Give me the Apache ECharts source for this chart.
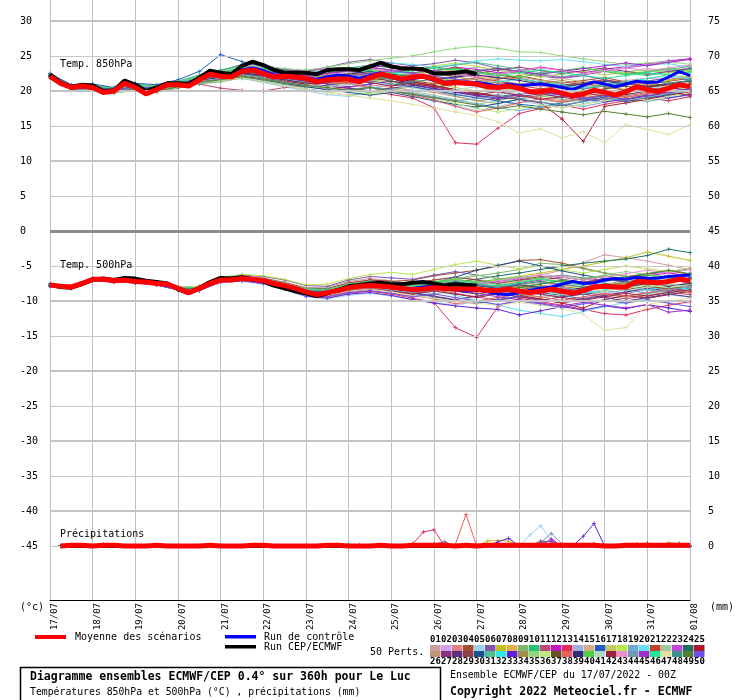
<!DOCTYPE html>
<html><head><meta charset="utf-8">
<script src="https://cdn.jsdelivr.net/npm/echarts@6/dist/echarts.min.js"></script>
<style>html,body{margin:0;padding:0;background:#fff}#c{width:740px;height:700px}</style>
</head><body><div id="c"></div>
<script>
const dateLabels = ['17/07','18/07','19/07','20/07','21/07','22/07','23/07','24/07','25/07','26/07','27/07','28/07','29/07','30/07','31/07','01/08'];
const hours6 = [0,6,12,18,24,30,36,42,48,54,60,66,72,78,84,90,96,102,108,114,120,126,132,138,144,150,156,162,168,174,180,186,192,198,204,210,216,222,228,234,240,246,252,258,264,270,276,282,288,294,300,306,312,318,324,330,336,342,348,354,360];
const hours12 = [0,12,24,36,48,60,72,84,96,108,120,132,144,156,168,180,192,204,216,228,240,252,264,276,288,300,312,324,336,348,360];
const leftTicks = [30,25,20,15,10,5,0,-5,-10,-15,-20,-25,-30,-35,-40,-45];
const rightTicks = [75,70,65,60,55,50,45,40,35,30,25,20,15,10,5,0];
const gridMajor = [30,20,10,-10,-20,-30,-40];
const gridMinor = [25,15,5,-5,-15,-25,-35,-45];

const mean850 = [22.1,21.1,20.5,20.7,20.5,19.8,20.0,21.1,20.5,19.6,20.2,20.9,20.9,20.7,21.6,22.4,22.1,22.0,22.8,23.0,22.5,22.0,22.1,22.0,21.8,21.3,21.6,21.7,21.7,21.3,21.9,22.4,22.1,21.7,22.0,22.1,21.7,21.1,21.2,21.1,21.0,20.6,20.5,20.7,20.4,19.9,19.9,20.1,19.7,19.3,19.6,20.1,19.8,19.4,19.9,20.6,20.2,19.9,20.4,20.9,20.6];
const ctrl850 = [22.2,21.1,20.4,20.6,20.4,19.7,20.0,21.2,20.6,19.7,20.3,21.0,21.0,20.8,21.8,22.6,22.3,22.1,23.0,23.3,22.9,22.3,22.2,22.0,21.9,21.6,22.0,22.3,22.1,21.8,22.2,22.6,22.0,21.5,21.8,22.0,21.5,21.2,21.4,21.0,21.2,21.0,20.6,21.0,20.8,20.9,21.0,20.8,20.5,20.2,20.8,21.3,21.0,20.6,21.0,21.4,21.2,21.3,22.0,22.8,22.2];
const cep850 = [22.4,21.2,20.6,20.9,20.8,20.0,20.1,21.5,20.9,20.0,20.5,21.1,21.1,21.0,21.9,22.9,22.6,22.4,23.6,24.2,23.7,23.0,22.6,22.6,22.6,22.4,23.0,23.1,23.1,23.0,23.5,24.0,23.5,23.2,23.2,23.1,22.5,22.5,22.6,22.8,22.4];
const mean500 = [-7.7,-7.9,-8.0,-7.5,-6.9,-6.9,-7.1,-7.0,-7.2,-7.3,-7.5,-7.6,-8.2,-8.8,-8.2,-7.5,-7.0,-7.0,-6.8,-6.9,-7.1,-7.5,-7.8,-8.2,-8.7,-9.1,-8.8,-8.5,-8.1,-7.9,-7.8,-7.9,-8.0,-8.2,-8.4,-8.3,-8.1,-8.2,-8.3,-8.3,-8.3,-8.5,-8.5,-8.3,-8.6,-8.8,-8.6,-8.3,-8.6,-8.9,-8.5,-8.0,-7.9,-8.0,-8.0,-7.2,-7.3,-7.4,-7.2,-6.9,-7.1];
const ctrl500 = [-7.7,-7.9,-8.0,-7.4,-6.9,-6.9,-7.1,-7.0,-7.2,-7.4,-7.5,-7.7,-8.3,-8.9,-8.3,-7.5,-7.0,-7.1,-6.9,-7.0,-7.3,-7.6,-7.9,-8.3,-8.8,-9.2,-8.9,-8.4,-8.0,-7.8,-7.7,-7.8,-8.0,-8.3,-8.2,-8.0,-7.9,-8.1,-8.4,-8.6,-8.4,-8.7,-9.0,-9.1,-8.8,-8.5,-8.2,-8.0,-7.6,-7.2,-7.5,-7.4,-7.0,-6.8,-6.9,-6.6,-6.8,-6.7,-6.5,-6.4,-6.3];
const cep500 = [-7.7,-8.0,-8.1,-7.6,-7.0,-6.8,-7.0,-6.7,-6.8,-7.1,-7.3,-7.5,-8.3,-8.9,-8.1,-7.3,-6.7,-6.8,-6.6,-6.9,-7.2,-7.8,-8.2,-8.6,-8.9,-9.3,-8.9,-8.4,-7.9,-7.7,-7.5,-7.4,-7.6,-7.6,-7.4,-7.3,-7.5,-7.8,-7.6,-7.7,-7.8];
// precipitation (mm), 6h steps from +6h to +360h
const precipMean = [0,0.1,0.1,0,0.1,0.1,0,0,0,0.1,0,0,0,0,0.1,0,0,0,0.1,0.1,0,0,0,0,0,0.1,0.1,0,0,0,0.1,0,0,0.1,0.1,0.1,0.1,0,0.1,0,0.1,0.1,0.1,0.1,0.1,0.1,0.1,0.1,0.1,0.1,0.1,0,0,0.1,0.1,0.1,0.1,0.1,0.1,0.1];
// [member, hour, mm] : non-zero member precipitation
const precipSpikes = [[13,204,0.3],[13,210,2.0],[13,216,2.3],[38,228,0.2],[38,234,4.5],[5,270,1.6],[5,276,2.9],[5,282,0.8],[44,276,0.5],[44,282,1.8],[44,288,0.3],[33,252,0.6],[33,258,1.1],[33,300,1.4],[33,306,3.2],[7,246,0.7],[7,252,0.8],[7,258,0.7],[6,216,0.3],[6,222,0.6],[9,222,0.4],[16,234,0.2],[48,222,0.3],[29,276,0.7],[29,282,0.6],[12,282,1.0],[50,282,0.8],[50,276,0.4],[37,300,0.2],[37,306,0.3],[21,306,0.3],[29,330,0.3],[4,336,0.4],[25,336,0.3],[8,348,0.5],[8,354,0.3],[40,348,0.3],[48,354,0.4],[1,354,0.2],[40,30,0.3],[31,36,0.2],[35,162,0.3],[46,168,0.3],[10,174,0.2]];

const memberLabels = ['01','02','03','04','05','06','07','08','09','10','11','12','13','14','15','16','17','18','19','20','21','22','23','24','25','26','27','28','29','30','31','32','33','34','35','36','37','38','39','40','41','42','43','44','45','46','47','48','49','50'];
const memberColors = ['#d09ca4','#d0a0e8','#e08088','#a05030','#a0d0f0','#8058b0','#c0c020','#e0b050','#80b870','#28c070','#c04878','#c018c0','#e03058','#a0b0e0','#d0b088','#2060c0','#c8c860','#b8e850','#70a8d8','#68e0f0','#c04028','#a0c8a0','#c048d8','#207060','#b01828','#c09878','#903080','#603080','#904048','#185090','#50c090','#30e8e8','#6020d8','#a09050','#90d880','#c0e880','#705028','#e86060','#302878','#50d040','#b0d8c8','#a02040','#e890d0','#7098b0','#a030c8','#20e890','#e0e0a0','#409090','#508030','#7050e8'];

const perts850 = [
[22.3,20.7,20.6,20.2,20.9,20.5,21.2,22.0,22.6,23.3,23.1,22.6,22.4,22.0,22.3,22.6,22.9,22.5,22.0,21.6,21.8,21.3,21.0,20.6,20.9,21.2,21.0,21.5,21.8,21.6,22.0],
[22.0,20.4,20.3,19.8,20.2,19.9,20.6,21.3,21.8,22.2,22.0,21.5,21.2,21.4,21.9,22.4,22.8,23.1,22.6,22.9,23.4,23.0,22.5,22.1,22.4,22.8,22.3,22.7,23.2,22.9,23.3],
[22.2,20.6,20.7,20.1,20.4,20.0,20.7,21.2,21.6,22.0,21.7,21.0,20.6,20.2,20.5,20.9,20.5,20.1,19.8,19.2,18.6,18.9,19.4,19.0,18.6,18.9,19.5,19.1,19.6,20.1,20.0],
[22.1,20.5,20.6,20.1,20.6,20.4,21.1,21.9,22.5,23.4,23.6,23.0,22.5,22.8,23.2,23.0,22.7,23.1,23.5,22.9,22.3,21.8,22.2,21.6,21.1,21.5,21.9,21.3,21.0,21.4,21.8],
[22.0,20.3,20.2,19.7,20.3,20.0,20.5,21.0,21.4,21.8,21.2,20.6,20.0,19.5,19.2,19.8,20.3,19.6,18.8,17.9,17.2,17.8,18.5,18.1,17.6,18.2,18.8,18.4,19.0,19.3,19.1],
[22.4,20.8,20.9,20.3,20.8,20.6,21.3,22.1,22.9,23.8,23.7,23.1,22.8,23.4,24.1,24.5,24.0,23.6,23.9,24.4,24.0,23.2,22.7,22.1,21.8,22.2,21.6,21.0,21.4,21.9,21.6],
[22.1,20.6,20.4,20.0,20.6,20.3,21.0,21.7,22.0,22.5,22.1,21.9,21.4,21.0,21.3,21.7,22.2,22.5,22.0,21.4,21.1,20.7,20.2,20.0,20.4,20.1,19.6,20.2,20.8,21.5,22.1],
[22.2,20.5,20.6,20.0,20.4,20.1,20.8,21.5,22.0,22.9,22.8,22.5,22.2,22.3,22.0,21.6,21.9,22.4,22.7,23.0,22.6,22.0,21.7,21.2,20.6,20.3,20.9,21.3,21.1,20.8,21.2],
[21.9,20.3,20.2,19.7,20.1,19.8,20.4,21.0,21.3,21.9,21.5,21.0,20.5,20.8,21.1,20.6,20.2,20.6,20.0,19.3,18.6,18.2,18.9,19.3,18.8,18.5,19.1,19.6,19.2,19.8,20.3],
[22.3,20.7,20.8,20.4,21.0,20.7,21.4,22.3,23.0,23.7,23.2,22.9,22.6,22.2,22.5,23.0,23.4,23.2,22.8,22.4,22.9,23.3,22.8,22.4,22.0,22.5,23.0,22.6,22.2,22.7,23.1],
[22.0,20.4,20.5,20.0,20.3,20.1,20.8,21.0,20.4,20.1,20.0,20.5,20.9,21.2,21.0,21.4,21.8,21.3,20.7,20.1,19.8,19.3,18.9,19.4,19.8,19.2,18.7,19.3,19.8,20.4,20.1],
[22.2,20.6,20.6,20.2,20.7,20.4,21.0,21.8,22.3,23.0,22.9,22.4,22.0,22.4,22.8,23.3,23.0,22.6,22.9,23.4,23.1,22.6,22.9,23.4,23.0,22.6,23.1,23.5,23.9,24.3,24.6],
[22.1,20.5,20.4,19.9,20.4,20.1,20.7,21.3,21.7,22.2,21.9,21.5,21.0,20.7,20.4,20.0,19.5,19.0,17.6,12.6,12.4,14.7,16.8,17.5,18.0,17.4,18.1,18.6,19.0,18.6,19.2],
[22.0,20.4,20.4,19.9,20.3,20.0,20.6,21.2,21.6,22.1,21.8,21.3,20.8,20.3,20.0,20.4,20.9,20.5,20.0,19.6,19.1,19.5,20.0,19.6,19.2,19.7,20.2,19.8,20.4,20.9,20.5],
[22.2,20.6,20.6,20.1,20.6,20.3,21.0,21.7,22.2,22.9,22.7,22.3,22.0,21.8,22.1,22.5,22.2,21.8,22.2,22.6,22.1,21.6,21.0,21.4,21.8,21.3,20.9,21.4,21.8,22.3,21.9],
[22.5,20.9,21.0,20.5,21.1,20.9,21.6,22.8,25.2,24.2,23.5,23.0,22.6,22.2,21.9,21.4,21.0,20.6,20.1,19.5,19.0,18.6,18.1,17.8,18.3,18.9,19.4,19.9,20.5,21.0,20.6],
[22.1,20.5,20.5,20.0,20.5,20.2,20.9,21.6,22.0,22.6,22.2,21.8,21.4,21.7,22.0,21.6,21.2,21.6,21.1,20.5,20.0,20.4,20.0,19.5,19.1,19.5,19.0,19.4,19.9,20.2,19.8],
[22.3,20.7,20.7,20.3,20.8,20.5,21.2,22.0,22.6,23.4,23.3,22.9,22.6,23.0,23.4,23.0,22.6,23.1,23.6,24.0,23.5,23.0,22.5,22.0,22.4,22.8,22.3,22.7,23.0,22.6,22.9],
[22.0,20.4,20.3,19.8,20.2,19.9,20.5,21.1,21.5,21.9,21.4,20.9,20.3,19.9,20.2,20.6,20.2,19.7,19.2,18.7,18.2,17.6,17.2,17.7,18.1,17.8,18.4,18.9,18.5,19.0,19.5],
[22.2,20.6,20.7,20.2,20.7,20.5,21.1,21.9,22.4,23.1,23.0,22.7,22.4,22.8,23.2,23.6,24.0,23.8,23.4,23.8,24.3,24.6,24.4,24.3,24.5,24.2,23.8,23.5,23.7,23.9,23.4],
[22.1,20.5,20.6,20.0,20.5,20.2,20.9,21.7,22.2,22.9,22.6,22.2,21.9,21.5,21.2,21.6,22.0,21.5,21.0,21.5,21.9,21.4,20.8,20.3,20.7,21.1,20.6,20.1,20.5,20.9,20.4],
[21.9,20.2,20.2,19.7,20.2,19.9,20.5,21.1,21.4,21.8,21.3,20.7,20.2,19.8,19.4,19.8,20.3,19.9,19.4,18.8,18.1,18.6,19.2,18.8,18.3,18.8,19.3,18.9,19.4,19.9,20.3],
[22.3,20.7,20.8,20.3,20.9,20.6,21.3,22.1,22.7,23.5,23.4,23.0,22.8,23.2,22.8,22.4,22.8,23.2,22.8,22.4,22.0,22.4,22.8,22.3,21.9,22.3,22.8,23.3,23.7,24.2,24.6],
[22.0,20.4,20.4,19.9,20.4,20.1,20.7,21.4,21.8,22.4,22.0,21.6,21.2,21.5,21.9,21.4,20.9,21.3,20.8,20.2,19.7,19.2,19.6,20.0,19.5,19.0,19.4,19.9,20.3,19.8,20.2],
[22.1,20.5,20.5,20.0,20.4,20.2,20.9,21.5,22.0,22.6,22.3,21.9,21.6,21.3,21.7,22.1,21.7,21.3,20.8,20.2,19.6,19.2,18.8,18.3,16.0,12.8,17.8,18.3,18.8,19.4,19.9],
[22.2,20.6,20.6,20.1,20.5,20.3,20.9,21.6,22.1,22.7,22.4,22.0,21.7,22.0,22.3,22.7,23.0,22.5,22.1,21.7,21.3,21.7,22.0,21.5,21.0,20.6,21.0,21.4,20.9,20.5,20.9],
[22.0,20.4,20.5,19.9,20.4,20.1,20.8,21.5,22.0,22.7,22.6,22.2,21.9,21.5,21.8,22.2,22.6,23.0,22.5,22.1,22.5,23.0,23.4,22.9,22.5,22.9,23.3,22.8,22.4,22.8,23.2],
[22.1,20.4,20.4,19.9,20.3,20.0,20.7,21.4,21.9,22.5,22.1,21.6,21.1,20.7,20.4,20.0,20.4,20.8,20.3,19.8,19.3,18.8,19.2,19.6,19.1,18.7,19.1,19.5,20.0,20.5,20.1],
[22.3,20.8,20.8,20.3,20.8,20.5,21.2,22.0,22.5,23.2,23.0,22.6,22.3,22.6,22.9,22.4,22.0,22.5,22.9,23.3,22.8,22.3,21.8,21.2,20.8,21.2,21.6,21.2,20.7,21.1,21.5],
[22.0,20.3,20.3,19.8,20.3,20.0,20.6,21.2,21.6,22.0,21.6,21.1,20.6,20.2,19.8,19.4,19.8,19.2,18.6,18.1,17.7,18.2,18.8,18.4,17.9,18.5,19.0,18.5,19.0,19.5,19.9],
[22.2,20.6,20.7,20.2,20.7,20.4,21.1,21.8,22.4,23.1,23.0,22.7,22.5,22.9,23.3,23.7,23.3,22.9,23.3,23.7,24.1,23.6,23.1,22.6,22.9,23.3,22.8,22.3,22.7,23.1,23.5],
[22.1,20.5,20.5,20.0,20.5,20.2,20.9,21.6,22.1,22.8,22.5,22.1,21.8,21.5,21.8,22.2,22.6,22.2,21.8,21.3,20.9,21.3,21.7,21.3,20.9,20.4,20.9,21.3,21.8,22.2,21.7],
[22.0,20.4,20.4,19.9,20.4,20.1,20.7,21.4,21.9,22.6,22.3,21.8,21.4,21.0,20.6,21.0,21.4,20.9,20.4,19.9,19.4,19.0,19.5,19.9,19.4,18.9,18.4,18.9,19.4,19.0,19.5],
[22.2,20.6,20.6,20.1,20.6,20.3,21.0,21.7,22.2,22.9,22.6,22.2,21.9,22.2,22.5,22.1,21.7,22.1,22.4,22.0,21.6,21.1,20.7,21.1,21.5,21.0,20.6,20.2,20.6,21.0,20.6],
[22.3,20.7,20.8,20.3,20.9,20.6,21.3,22.1,22.7,23.6,23.5,23.2,23.0,23.4,23.9,24.3,24.7,25.0,25.6,26.1,26.4,26.1,25.6,25.5,25.0,24.6,24.2,23.8,24.0,24.2,23.8],
[22.0,20.4,20.3,19.8,20.3,20.0,20.6,21.2,21.6,22.1,21.7,21.2,20.8,20.4,20.0,19.6,20.0,19.6,19.0,18.2,17.5,17.0,17.5,18.0,17.6,18.1,18.6,19.1,18.7,19.2,19.7],
[22.1,20.5,20.5,20.0,20.5,20.2,20.9,21.6,22.0,22.6,22.3,21.9,21.5,21.2,21.5,21.9,21.4,21.0,20.6,20.9,21.3,20.8,20.4,19.9,19.5,19.9,20.3,20.7,20.2,20.6,21.0],
[22.2,20.6,20.6,20.1,20.5,20.2,20.9,21.6,22.1,22.8,22.6,22.2,21.8,21.4,21.0,20.5,20.0,19.4,18.7,17.8,17.0,17.6,18.3,18.9,18.4,19.0,19.5,19.1,19.6,20.1,19.7],
[22.0,20.4,20.4,19.9,20.4,20.1,20.8,21.5,22.0,22.6,22.4,22.0,21.7,22.0,22.4,22.8,22.4,22.0,21.6,22.0,22.3,21.9,21.5,21.0,20.6,21.0,21.4,21.0,20.6,21.0,21.4],
[22.3,20.7,20.7,20.2,20.7,20.4,21.1,21.9,22.4,23.1,22.9,22.5,22.2,22.5,22.1,21.7,22.1,22.5,22.9,23.2,22.8,22.4,22.0,22.4,22.9,23.3,22.8,22.4,22.8,23.2,22.8],
[22.1,20.5,20.5,20.0,20.5,20.2,20.8,21.4,21.8,22.3,21.9,21.4,21.0,20.6,20.9,21.3,20.9,20.4,19.9,20.2,20.6,20.1,19.6,20.0,20.4,19.9,19.5,19.9,20.3,20.7,20.3],
[22.0,20.4,20.4,19.9,20.3,20.0,20.6,21.3,21.7,22.2,21.8,21.4,21.0,21.3,21.6,21.2,20.7,21.1,20.6,20.0,19.5,19.9,19.4,18.8,19.2,19.7,19.3,18.8,19.3,19.8,19.4],
[22.2,20.6,20.6,20.1,20.6,20.3,21.0,21.7,22.2,22.9,22.7,22.4,22.1,22.4,22.8,23.2,22.8,22.4,22.8,22.4,22.0,22.4,22.9,23.3,22.9,22.5,22.9,23.3,22.9,23.3,23.7],
[22.1,20.5,20.4,19.9,20.4,20.1,20.7,21.3,21.7,22.2,21.8,21.3,20.8,20.4,20.1,20.5,20.1,19.6,19.1,18.6,18.9,19.3,18.9,18.4,18.0,18.5,19.0,18.6,19.1,19.6,20.0],
[22.2,20.6,20.7,20.2,20.7,20.4,21.1,21.8,22.3,23.0,22.8,22.5,22.2,22.5,22.9,23.3,23.7,23.3,22.9,22.5,22.8,23.2,22.8,22.4,22.8,23.2,23.6,24.0,23.6,24.1,24.5],
[22.3,20.7,20.8,20.3,20.8,20.5,21.2,22.0,22.6,23.4,23.2,22.9,22.6,22.9,23.3,22.9,22.5,22.9,23.3,23.0,22.6,22.2,22.6,23.0,22.6,22.2,21.8,22.2,22.6,22.3,22.7],
[22.0,20.4,20.3,19.8,20.3,20.0,20.6,21.2,21.5,21.9,21.4,20.8,20.3,19.8,19.4,19.0,18.6,18.1,17.6,17.0,16.5,15.6,14.0,14.6,13.3,14.2,12.6,15.2,14.5,13.8,15.2],
[22.1,20.5,20.5,20.0,20.5,20.2,20.9,21.6,22.1,22.7,22.4,22.0,21.7,21.4,21.7,22.1,21.7,21.3,21.7,21.2,20.8,20.3,20.7,21.1,20.7,20.3,20.7,21.1,21.5,21.1,21.5],
[22.0,20.4,20.4,19.9,20.3,20.0,20.6,21.2,21.6,22.1,21.7,21.2,20.8,20.5,20.1,20.5,20.0,19.5,19.0,18.5,18.0,17.5,17.9,17.4,17.0,16.6,17.1,16.7,16.3,16.8,16.2],
[22.2,20.6,20.6,20.1,20.6,20.3,21.0,21.7,22.2,22.9,22.7,22.3,22.0,21.7,22.1,22.5,22.9,22.5,22.1,21.7,21.3,20.9,20.4,19.8,19.4,18.9,19.3,18.8,19.3,19.8,20.3]
];

const perts500 = [
[-7.6,-7.9,-6.8,-7.0,-7.1,-7.4,-8.0,-8.0,-6.7,-6.4,-6.7,-7.3,-8.1,-8.0,-7.2,-6.8,-7.1,-7.6,-7.0,-6.6,-6.9,-7.4,-6.8,-6.3,-5.6,-4.5,-3.4,-3.8,-4.3,-4.9,-5.5],
[-7.8,-8.1,-7.0,-7.2,-7.3,-7.6,-8.3,-8.4,-7.2,-7.0,-7.4,-8.1,-9.0,-9.2,-8.5,-8.0,-7.6,-7.9,-7.4,-7.0,-7.5,-8.0,-8.4,-7.9,-7.4,-7.8,-7.2,-6.8,-6.2,-6.6,-6.0],
[-7.7,-7.9,-6.9,-7.2,-7.3,-7.5,-8.3,-8.3,-7.2,-7.0,-7.4,-8.2,-9.2,-9.5,-8.9,-8.6,-8.9,-9.3,-9.6,-10.0,-10.4,-9.8,-9.3,-9.7,-10.2,-9.6,-9.0,-9.4,-8.8,-8.4,-8.8],
[-7.7,-8.0,-6.9,-7.0,-7.1,-7.4,-8.1,-8.1,-6.9,-6.6,-6.8,-7.4,-8.2,-8.3,-7.5,-7.0,-7.2,-7.0,-6.4,-6.0,-5.6,-5.0,-4.2,-4.1,-4.6,-5.3,-6.0,-6.5,-6.1,-5.7,-6.2],
[-7.8,-8.1,-7.0,-7.3,-7.4,-7.7,-8.4,-8.5,-7.3,-7.2,-7.6,-8.4,-9.4,-9.7,-9.2,-8.9,-9.3,-9.8,-10.2,-10.6,-10.1,-9.6,-10.0,-10.5,-11.0,-10.4,-9.8,-10.2,-9.6,-9.1,-9.5],
[-7.6,-7.9,-6.8,-6.9,-7.0,-7.3,-8.0,-7.9,-6.6,-6.3,-6.5,-7.0,-7.8,-7.9,-7.0,-6.5,-6.7,-6.9,-6.3,-5.8,-6.3,-6.8,-7.2,-6.7,-6.3,-6.7,-7.1,-6.6,-6.2,-5.8,-5.4],
[-7.7,-8.0,-6.9,-7.1,-7.2,-7.5,-8.2,-8.2,-7.0,-6.8,-7.0,-7.6,-8.4,-8.5,-7.8,-7.5,-7.7,-8.0,-7.5,-7.1,-7.4,-7.0,-6.5,-6.0,-5.5,-5.0,-4.4,-3.8,-3.0,-3.6,-4.2],
[-7.7,-8.0,-6.9,-7.1,-7.2,-7.5,-8.2,-8.3,-7.1,-6.9,-7.2,-7.9,-8.8,-9.0,-8.3,-8.0,-8.3,-8.7,-8.3,-7.9,-8.3,-8.7,-8.2,-7.8,-8.2,-8.6,-8.1,-7.6,-7.9,-7.5,-7.8],
[-7.8,-8.0,-6.9,-7.1,-7.2,-7.5,-8.2,-8.2,-7.0,-6.8,-7.1,-7.7,-8.5,-8.6,-7.8,-7.4,-7.6,-7.9,-7.4,-6.9,-6.4,-6.0,-5.5,-4.6,-4.8,-5.4,-6.0,-6.5,-7.0,-6.6,-7.1],
[-7.6,-7.9,-6.8,-7.0,-7.1,-7.4,-8.1,-8.1,-6.9,-6.6,-6.9,-7.5,-8.3,-8.4,-7.6,-7.2,-7.5,-7.9,-7.4,-7.8,-8.2,-7.8,-7.3,-6.9,-7.3,-7.7,-7.2,-6.7,-6.3,-6.7,-6.2],
[-7.7,-8.0,-6.9,-7.1,-7.3,-7.6,-8.3,-8.3,-7.1,-6.9,-7.3,-8.0,-8.9,-9.1,-8.4,-8.1,-8.4,-8.8,-8.4,-8.9,-9.4,-9.9,-9.4,-9.8,-10.3,-9.8,-9.3,-9.7,-9.2,-8.7,-9.1],
[-7.7,-8.0,-6.9,-7.1,-7.2,-7.5,-8.2,-8.2,-7.0,-6.7,-7.0,-7.6,-8.5,-8.5,-7.8,-7.4,-7.7,-8.1,-7.6,-7.2,-7.6,-8.0,-7.5,-7.0,-6.6,-7.0,-6.5,-6.9,-6.4,-6.0,-6.4],
[-7.7,-8.0,-6.9,-7.1,-7.2,-7.6,-8.3,-8.4,-7.2,-7.0,-7.4,-8.1,-9.0,-9.3,-8.8,-8.6,-9.0,-9.6,-10.2,-13.8,-15.2,-10.8,-9.6,-10.1,-10.6,-11.2,-11.8,-12.0,-11.2,-10.6,-10.1],
[-7.8,-8.1,-7.0,-7.2,-7.3,-7.6,-8.3,-8.4,-7.2,-7.0,-7.3,-8.0,-8.9,-9.0,-8.3,-8.0,-8.2,-8.6,-8.2,-7.8,-8.2,-8.6,-9.0,-8.5,-8.1,-8.5,-8.9,-8.4,-8.0,-8.4,-8.0],
[-7.6,-7.9,-6.8,-7.0,-7.1,-7.4,-8.1,-8.0,-6.8,-6.5,-6.8,-7.4,-8.2,-8.3,-7.5,-7.1,-7.4,-7.8,-7.3,-6.9,-7.3,-7.7,-7.2,-6.8,-7.2,-7.6,-8.0,-7.5,-7.0,-7.4,-7.0],
[-7.9,-8.2,-7.1,-7.3,-7.4,-7.7,-8.4,-8.5,-7.3,-7.0,-7.3,-7.9,-8.8,-9.0,-8.4,-8.1,-8.4,-8.9,-9.4,-9.9,-10.3,-9.8,-9.3,-8.8,-9.2,-9.7,-9.2,-8.7,-8.2,-8.6,-8.1],
[-7.7,-8.0,-6.9,-7.1,-7.2,-7.5,-8.2,-8.2,-7.0,-6.8,-7.1,-7.7,-8.6,-8.7,-8.0,-7.7,-8.0,-8.4,-8.0,-8.4,-8.8,-8.4,-8.0,-8.4,-8.9,-8.5,-8.1,-8.5,-8.0,-7.6,-7.9],
[-7.6,-7.9,-6.8,-6.9,-7.0,-7.3,-8.0,-7.9,-6.6,-6.2,-6.4,-6.9,-7.7,-7.6,-6.8,-6.2,-5.9,-6.2,-5.5,-4.8,-4.3,-4.9,-5.4,-5.0,-5.5,-6.0,-5.5,-5.0,-5.4,-5.8,-5.3],
[-7.8,-8.1,-7.0,-7.2,-7.3,-7.6,-8.3,-8.4,-7.2,-7.0,-7.4,-8.1,-9.0,-9.2,-8.6,-8.3,-8.6,-9.0,-8.6,-8.2,-8.6,-9.0,-8.6,-9.1,-9.5,-9.0,-8.5,-8.9,-8.4,-8.8,-8.3],
[-7.7,-8.0,-6.9,-7.1,-7.2,-7.5,-8.2,-8.2,-7.0,-6.7,-6.9,-7.5,-8.3,-8.4,-7.7,-7.3,-7.6,-8.0,-8.5,-9.2,-9.9,-10.6,-11.3,-11.8,-12.2,-11.5,-10.8,-10.2,-9.6,-9.0,-8.5],
[-7.7,-8.0,-6.9,-7.1,-7.2,-7.5,-8.2,-8.2,-7.0,-6.8,-7.1,-7.8,-8.7,-8.8,-8.1,-7.8,-8.1,-8.5,-8.0,-7.6,-8.0,-8.5,-8.9,-8.4,-7.9,-8.3,-7.8,-7.3,-7.7,-7.2,-6.8],
[-7.8,-8.1,-7.0,-7.2,-7.3,-7.6,-8.3,-8.3,-7.1,-6.9,-7.2,-7.9,-8.8,-8.9,-8.2,-7.9,-8.2,-8.6,-9.0,-8.6,-8.2,-8.6,-9.1,-9.5,-9.1,-8.6,-9.0,-9.5,-9.0,-8.5,-8.9],
[-7.6,-7.9,-6.8,-7.0,-7.1,-7.4,-8.1,-8.1,-6.9,-6.6,-6.9,-7.5,-8.3,-8.4,-7.7,-7.3,-7.6,-8.0,-7.6,-7.2,-7.6,-7.2,-6.8,-7.2,-7.7,-7.3,-6.9,-7.3,-6.8,-6.4,-6.8],
[-7.7,-8.0,-6.9,-7.1,-7.2,-7.5,-8.2,-8.2,-7.0,-6.8,-7.1,-7.7,-8.5,-8.6,-7.9,-7.5,-7.8,-8.2,-7.7,-7.3,-6.9,-6.4,-6.0,-5.5,-5.0,-4.6,-4.3,-4.0,-3.5,-2.6,-3.1],
[-7.7,-8.0,-6.9,-7.1,-7.3,-7.6,-8.3,-8.3,-7.1,-6.9,-7.2,-7.9,-8.8,-8.9,-8.2,-7.9,-8.2,-8.6,-8.2,-7.8,-8.2,-8.7,-9.2,-9.7,-10.3,-11.0,-9.8,-9.2,-9.6,-9.1,-8.6],
[-7.7,-8.0,-6.9,-7.1,-7.2,-7.5,-8.2,-8.2,-7.0,-6.8,-7.1,-7.7,-8.5,-8.6,-7.9,-7.6,-7.9,-8.3,-7.9,-7.5,-7.9,-8.3,-7.8,-7.3,-7.7,-8.1,-7.6,-7.1,-7.5,-7.9,-7.4],
[-7.8,-8.1,-7.0,-7.2,-7.4,-7.7,-8.4,-8.4,-7.2,-7.0,-7.4,-8.1,-9.0,-9.2,-8.5,-8.2,-8.5,-8.9,-8.4,-8.0,-8.4,-8.8,-8.3,-7.9,-8.3,-8.8,-9.2,-8.7,-8.2,-8.6,-8.1],
[-7.7,-8.0,-6.9,-7.1,-7.2,-7.5,-8.2,-8.3,-7.1,-6.9,-7.2,-7.8,-8.7,-8.9,-8.3,-8.0,-8.4,-8.8,-9.3,-9.8,-9.3,-8.9,-9.4,-9.9,-9.4,-9.0,-9.5,-10.0,-9.5,-9.0,-9.4],
[-7.6,-7.9,-6.8,-7.0,-7.1,-7.4,-8.1,-8.1,-6.9,-6.6,-6.8,-7.4,-8.2,-8.2,-7.4,-7.0,-7.2,-7.5,-7.0,-6.6,-7.0,-7.5,-7.0,-6.5,-6.9,-7.3,-6.8,-7.2,-7.7,-7.2,-6.7],
[-7.8,-8.1,-7.0,-7.2,-7.3,-7.6,-8.3,-8.3,-7.1,-6.9,-7.2,-7.8,-8.6,-8.7,-8.0,-7.6,-7.8,-8.1,-7.4,-6.6,-5.6,-4.9,-4.3,-5.0,-5.7,-6.3,-6.8,-7.3,-6.8,-7.2,-6.7],
[-7.7,-8.0,-6.9,-7.1,-7.2,-7.5,-8.2,-8.2,-7.0,-6.8,-7.1,-7.7,-8.6,-8.7,-8.0,-7.7,-8.0,-8.4,-8.0,-7.6,-7.2,-7.6,-8.0,-7.5,-7.0,-7.4,-7.8,-7.3,-6.9,-7.3,-6.9],
[-7.7,-8.0,-6.9,-7.1,-7.3,-7.6,-8.3,-8.3,-7.1,-6.9,-7.3,-8.0,-8.9,-9.1,-8.4,-8.1,-8.4,-8.8,-8.4,-8.0,-8.4,-8.9,-8.4,-8.0,-8.5,-8.9,-8.4,-8.0,-8.4,-8.0,-8.3],
[-7.8,-8.1,-7.0,-7.2,-7.4,-7.7,-8.4,-8.5,-7.3,-7.1,-7.5,-8.3,-9.3,-9.6,-9.0,-8.8,-9.2,-9.8,-10.3,-10.7,-11.0,-11.2,-12.0,-11.4,-10.8,-11.3,-10.7,-11.1,-10.5,-11.0,-11.5],
[-7.7,-8.0,-6.9,-7.1,-7.2,-7.5,-8.2,-8.2,-7.0,-6.8,-7.1,-7.7,-8.6,-8.7,-8.0,-7.7,-8.0,-8.4,-7.9,-8.3,-8.7,-8.3,-7.9,-8.3,-8.7,-8.3,-7.8,-7.4,-7.8,-8.2,-7.8],
[-7.6,-7.9,-6.8,-7.0,-7.1,-7.4,-8.1,-8.1,-6.9,-6.6,-6.9,-7.5,-8.3,-8.4,-7.6,-7.2,-7.4,-7.7,-7.2,-6.8,-6.3,-6.8,-7.3,-6.8,-6.4,-6.8,-6.3,-5.8,-6.2,-6.6,-6.1],
[-7.7,-8.0,-6.9,-7.1,-7.2,-7.5,-8.2,-8.2,-7.0,-6.8,-7.1,-7.7,-8.5,-8.6,-7.9,-7.6,-7.9,-8.3,-7.9,-7.5,-7.9,-8.3,-8.7,-8.2,-7.8,-8.2,-8.6,-8.1,-7.7,-8.1,-7.7],
[-7.8,-8.1,-7.0,-7.2,-7.3,-7.6,-8.3,-8.3,-7.1,-6.9,-7.2,-7.9,-8.8,-8.9,-8.2,-7.9,-8.2,-8.6,-8.2,-8.6,-9.0,-8.6,-8.1,-8.5,-9.0,-8.5,-8.0,-8.4,-7.9,-8.3,-7.8],
[-7.7,-8.0,-6.9,-7.1,-7.2,-7.5,-8.2,-8.3,-7.1,-6.9,-7.3,-8.0,-8.9,-9.1,-8.5,-8.2,-8.6,-9.1,-9.7,-10.4,-10.0,-9.5,-9.0,-9.4,-9.9,-9.4,-8.9,-9.3,-8.8,-8.3,-8.7],
[-7.7,-8.0,-6.9,-7.1,-7.2,-7.5,-8.2,-8.2,-7.0,-6.8,-7.1,-7.7,-8.6,-8.7,-8.0,-7.6,-7.9,-8.3,-7.8,-7.4,-7.8,-8.2,-7.7,-8.1,-8.6,-8.1,-7.6,-8.0,-7.5,-7.9,-7.5],
[-7.6,-7.9,-6.8,-7.0,-7.1,-7.4,-8.1,-8.1,-6.9,-6.6,-6.9,-7.5,-8.3,-8.3,-7.6,-7.2,-7.4,-7.8,-7.3,-6.9,-7.3,-6.9,-6.5,-6.9,-7.3,-6.8,-6.4,-6.8,-6.3,-6.7,-6.3],
[-7.7,-8.0,-6.9,-7.1,-7.3,-7.6,-8.3,-8.3,-7.1,-6.9,-7.3,-8.0,-8.9,-9.0,-8.3,-8.0,-8.3,-8.7,-8.3,-7.9,-8.3,-8.7,-8.2,-8.6,-9.1,-8.6,-8.1,-8.5,-8.0,-7.6,-8.0],
[-7.8,-8.1,-7.0,-7.2,-7.3,-7.6,-8.3,-8.4,-7.2,-7.0,-7.4,-8.1,-9.0,-9.2,-8.6,-8.3,-8.6,-9.0,-8.6,-9.0,-9.5,-9.0,-8.6,-9.0,-9.5,-9.9,-9.4,-8.9,-9.3,-8.8,-8.4],
[-7.6,-7.9,-6.8,-7.0,-7.1,-7.4,-8.1,-8.1,-6.9,-6.6,-6.9,-7.5,-8.3,-8.4,-7.7,-7.3,-7.6,-8.0,-7.5,-7.1,-7.5,-7.1,-6.7,-6.2,-6.6,-7.0,-6.5,-6.1,-5.6,-6.0,-5.5],
[-7.7,-8.0,-6.9,-7.1,-7.2,-7.5,-8.2,-8.3,-7.1,-6.9,-7.2,-7.9,-8.8,-8.9,-8.2,-7.9,-8.2,-8.6,-8.2,-7.8,-8.2,-8.6,-9.1,-8.6,-8.1,-8.5,-8.0,-8.4,-8.9,-8.4,-7.9],
[-7.7,-8.0,-6.9,-7.1,-7.2,-7.5,-8.2,-8.2,-7.0,-6.8,-7.1,-7.8,-8.7,-8.8,-8.1,-7.8,-8.1,-8.5,-8.1,-8.5,-8.9,-9.4,-9.8,-10.3,-10.7,-10.2,-10.6,-11.0,-10.5,-11.6,-11.3],
[-7.6,-7.9,-6.8,-7.0,-7.1,-7.4,-8.1,-8.1,-6.9,-6.6,-6.9,-7.5,-8.3,-8.4,-7.7,-7.3,-7.6,-8.0,-7.5,-7.1,-7.5,-7.9,-7.4,-6.9,-7.3,-7.7,-7.2,-6.7,-7.1,-6.6,-6.2],
[-7.8,-8.1,-7.0,-7.2,-7.3,-7.6,-8.3,-8.4,-7.2,-7.0,-7.4,-8.1,-9.0,-9.2,-8.6,-8.3,-8.7,-9.2,-9.6,-10.0,-10.3,-10.6,-10.2,-10.6,-11.0,-11.9,-14.2,-13.8,-10.5,-10.0,-9.6],
[-7.7,-8.0,-6.9,-7.1,-7.2,-7.5,-8.2,-8.2,-7.0,-6.8,-7.1,-7.7,-8.5,-8.6,-7.9,-7.5,-7.8,-8.2,-7.7,-7.3,-7.7,-8.1,-7.6,-7.2,-7.6,-8.0,-7.5,-7.9,-7.4,-7.0,-7.4],
[-7.7,-8.0,-6.9,-7.1,-7.3,-7.6,-8.3,-8.3,-7.1,-6.9,-7.2,-7.9,-8.8,-8.9,-8.2,-7.9,-8.2,-8.6,-8.2,-7.8,-8.2,-8.6,-8.1,-7.6,-7.1,-7.5,-7.0,-6.6,-6.1,-5.6,-6.1],
[-7.8,-8.1,-7.0,-7.2,-7.4,-7.7,-8.4,-8.5,-7.3,-7.1,-7.5,-8.2,-9.1,-9.4,-8.8,-8.5,-8.9,-9.4,-9.0,-9.5,-10.0,-10.5,-10.0,-10.4,-10.9,-10.4,-9.9,-10.3,-9.8,-10.3,-10.8]
];

// ---- layout plan: 7 px per degree, plot area 640 x 600
const Y_MIN = -45 - 54 / 7, Y_MAX = 33, R_OFF = 45;
const F = '"DejaVu Sans Mono", monospace';
const plus = 'path://M2,0h1v2h2v1h-2v2h-1v-2h-2v-1h2z';
const precipHours = hours6.slice(1);

const chart = echarts.init(document.getElementById('c'), null, {renderer: 'canvas'});
const series = [];
const gridData = [];
gridMajor.forEach(v => gridData.push({yAxis: v, lineStyle: {color: '#c4c4c4', width: 2}}));
gridMinor.forEach(v => gridData.push({yAxis: v, lineStyle: {color: '#c8c8c8', width: 1}}));
gridData.push({yAxis: 0, lineStyle: {color: '#8c8c8c', width: 3}});
series.push({type: 'line', data: [], silent: true, z: 1,
  markLine: {silent: true, symbol: ['none', 'none'], label: {show: false}, animation: false,
    lineStyle: {type: 'solid'}, emphasis: {disabled: true}, data: gridData}});

const memberPrecip = memberLabels.map(() => precipHours.map(h => [h, 0]));
precipSpikes.forEach(([m, h, v]) => { memberPrecip[m - 1][precipHours.indexOf(h)][1] = v; });

memberLabels.forEach((lab, i) => {
  const c = memberColors[i];
  const common = {type: 'line', symbol: plus, symbolSize: 4, lineStyle: {width: 1, color: c},
    itemStyle: {color: c}, z: 2, silent: true, emphasis: {disabled: true}};
  series.push(Object.assign({name: 'P' + lab + ' 850', data: hours12.map((h, k) => [h, perts850[i][k]])}, common));
  series.push(Object.assign({name: 'P' + lab + ' 500', data: hours12.map((h, k) => [h, perts500[i][k]])}, common));
  series.push(Object.assign({name: 'P' + lab + ' RR', yAxisIndex: 1, data: memberPrecip[i]}, common));
});

const thick = (name, data, color, width, z, yAxisIndex) => ({name, type: 'line', data, yAxisIndex: yAxisIndex || 0,
  symbol: 'none', lineStyle: {width, color}, itemStyle: {color}, z, silent: true, emphasis: {disabled: true}});
series.push(thick('Run de contrôle 850', hours6.map((h, k) => [h, ctrl850[k]]), '#0000ff', 3, 3));
series.push(thick('Run de contrôle 500', hours6.map((h, k) => [h, ctrl500[k]]), '#0000ff', 3, 3));
series.push(thick('Run de contrôle RR', precipHours.map(h => [h, 0]), '#0000ff', 3, 3, 1));
series.push(thick('Run CEP/ECMWF 850', cep850.map((v, k) => [hours6[k], v]), '#000000', 4, 4));
series.push(thick('Run CEP/ECMWF 500', cep500.map((v, k) => [hours6[k], v]), '#000000', 4, 4));
series.push(thick('Run CEP/ECMWF RR', precipHours.filter(h => h <= 240).map(h => [h, 0]), '#000000', 4, 4, 1));
series.push(thick('Moyenne 850', hours6.map((h, k) => [h, mean850[k]]), '#ff0000', 5, 5));
series.push(thick('Moyenne 500', hours6.map((h, k) => [h, mean500[k]]), '#ff0000', 5, 5));
series.push(thick('Moyenne RR', precipHours.map((h, k) => [h, precipMean[k]]), '#ff0000', 5, 5, 1));

const txt = (text, x, y, size, bold, align) => ({type: 'text', x, y, silent: true, z: 50,
  style: {text, fontSize: size, fontFamily: F, fontWeight: bold ? 'bold' : 'normal', fill: '#000',
    align: align || 'left', verticalAlign: 'middle'}});
const graphic = [
  txt('Temp. 850hPa', 60, 64, 10), txt('Temp. 500hPa', 60, 265, 10), txt('Précipitations', 60, 534, 10),
  txt('(°c)', 20, 607, 10), txt('(mm)', 710, 607, 10),
  {type: 'rect', shape: {x: 35, y: 635, width: 31, height: 4}, style: {fill: '#ff0000'}},
  txt('Moyenne des scénarios', 75, 637, 10),
  {type: 'rect', shape: {x: 225, y: 635, width: 31, height: 3.5}, style: {fill: '#0000ff'}},
  txt('Run de contrôle', 264, 637, 10),
  {type: 'rect', shape: {x: 225, y: 645, width: 31, height: 3.5}, style: {fill: '#000000'}},
  txt('Run CEP/ECMWF', 264, 647, 10),
  txt('50 Perts.', 370, 652, 10),
  {type: 'rect', shape: {x: 20.5, y: 667.5, width: 420, height: 34}, style: {fill: '#fff', stroke: '#000', lineWidth: 1.5}},
  txt('Diagramme ensembles ECMWF/CEP 0.4° sur 360h pour Le Luc', 30, 677, 11.5, true),
  txt('Températures 850hPa et 500hPa (°C) , précipitations (mm)', 30, 692, 9.8),
  txt('Ensemble ECMWF/CEP du 17/07/2022 - 00Z', 450, 675, 9.9),
  txt('Copyright 2022 Meteociel.fr - ECMWF', 450, 692, 11.5, true)
];
memberLabels.forEach((lab, i) => {
  const row = i < 25 ? 0 : 1, col = i % 25;
  const x = 430 + col * 11;
  graphic.push({type: 'rect', shape: {x, y: 645 + row * 6, width: 10.5, height: 6}, style: {fill: memberColors[i]}});
  graphic.push(txt(lab, x + 5.5, row ? 662 : 640, 9, true, 'center'));
});

chart.setOption({
  animation: false,
  backgroundColor: '#ffffff',
  grid: {left: 50, top: 0, width: 640, height: 600, containLabel: false},
  xAxis: {type: 'value', min: 0, max: 360, interval: 24,
    axisLine: {show: true, onZero: false, lineStyle: {color: '#000', width: 1}},
    axisTick: {show: false},
    splitLine: {show: true, lineStyle: {color: '#c0c0c0', width: 1}},
    axisLabel: {rotate: 90, margin: 3, fontSize: 9, fontFamily: F, color: '#000', verticalAlign: 'top',
      showMinLabel: true, showMaxLabel: true, hideOverlap: false,
      formatter: v => dateLabels[Math.round(v / 24)]}},
  yAxis: [
    {type: 'value', position: 'left', min: Y_MIN, max: Y_MAX, axisLine: {show: false}, axisTick: {show: false},
      splitLine: {show: false},
      axisLabel: {customValues: leftTicks, align: 'left', margin: 30, fontSize: 10, fontFamily: F, color: '#000', padding: [4, 0, 0, 0]}},
    {type: 'value', position: 'right', min: Y_MIN + R_OFF, max: Y_MAX + R_OFF, axisLine: {show: false}, axisTick: {show: false},
      splitLine: {show: false},
      axisLabel: {customValues: rightTicks, align: 'left', margin: 18, fontSize: 10, fontFamily: F, color: '#000', padding: [4, 0, 0, 0]}}
  ],
  graphic,
  series
});
</script></body></html>
